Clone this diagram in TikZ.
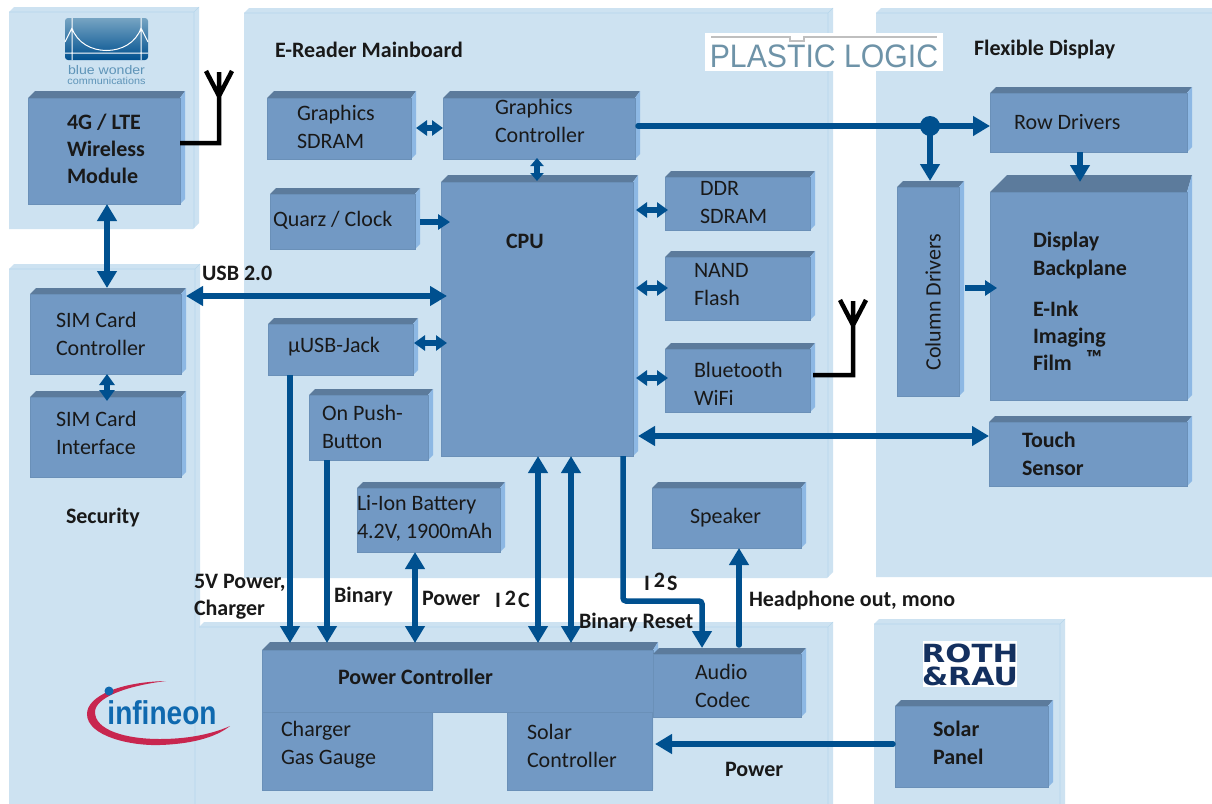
\documentclass[tikz,border=0pt]{standalone}
\usepackage{fontspec}
\setmainfont{Carlito}
\newfontfamily\logofont{Liberation Sans}
\newfontfamily\heavyfont{DejaVu Sans}
\usetikzlibrary{arrows.meta,calc}
\definecolor{regionc}{HTML}{CDE2F1}
\definecolor{regionl}{HTML}{B6D6EC}
\definecolor{frontc}{HTML}{7299C4}
\definecolor{topc}{HTML}{5C7B9C}
\definecolor{sidec}{HTML}{8DB8E4}
\definecolor{edgec}{HTML}{6A90B8}
\definecolor{linkc}{HTML}{00508F}
\definecolor{plc}{HTML}{6E93A8}
\definecolor{rrc}{HTML}{14305F}
\definecolor{ifb}{HTML}{0F69AF}
\definecolor{ifr}{HTML}{C8264F}
\definecolor{bwc}{HTML}{5E94B8}
\tikzset{
  x=1pt,y=-1pt,
  boxfront/.style={fill=frontc,draw=edgec,line width=.6pt},
  lab/.style={anchor=west,inner sep=0,outer sep=0,font=\fontsize{22}{28}\selectfont,align=left,text=black!90},
  blab/.style={lab,font=\fontsize{22}{27.5}\bfseries\selectfont},
  tlab/.style={lab,yshift=-1.5pt,font=\fontsize{22}{27}\bfseries\selectfont},
  conn/.style={line width=5.5pt,draw=linkc},
  to1/.style={conn,-{Triangle[width=19pt,length=17pt]}},
  both/.style={conn,{Triangle[width=19pt,length=17pt]}-{Triangle[width=19pt,length=17pt]}},
  sboth/.style={conn,{Triangle[width=15pt,length=11pt]}-{Triangle[width=15pt,length=11pt]}},
  tboth/.style={conn,{Triangle[width=13pt,length=8pt]}-{Triangle[width=13pt,length=8pt]}},
  to2/.style={conn,-{Triangle[width=15pt,length=12pt]}},
  ant/.style={line width=4.5pt,draw=black},
}
% name x0 y0 x1 y1 topdepth sidedepth
\newcommand{\blockbox}[7]{%
  \pgfmathsetmacro{\bw}{#4-#2}\pgfmathsetmacro{\bh}{#5-#3}%
  \pgfmathsetmacro{\bcx}{(#2+#4)/2}\pgfmathsetmacro{\bcy}{(#3+#5)/2}%
  \fill[topc] (#2,#3+#6) -- (#2+#6,#3) -- (#4,#3) -- (#4-#7,#3+#6) -- cycle;
  \fill[sidec] (#4-#7,#3+#6) -- (#4,#3) -- (#4,#5-#7) -- (#4-#7,#5) -- cycle;
  \fill[boxfront] (#2,#3+#6) rectangle (#4-#7,#5);
  \node[inner sep=0,outer sep=0,minimum width=\bw pt,minimum height=\bh pt] (#1) at (\bcx,\bcy) {};%
}
\newcommand{\regionbox}[4]{%
  \fill[regionc] (#1,#2+5) -- (#1+5,#2) -- (#3,#2) -- (#3,#4-6) -- (#3-6,#4) -- (#1,#4) -- cycle;
  \draw[regionl,line width=.6pt] (#1,#2+5) -- (#3-5,#2+5) -- (#3-5,#4-1) (#3-5,#2+5) -- (#3,#2);
}
\begin{document}
\begin{tikzpicture}
\useasboundingbox (0,0) rectangle (1212,803);
\fill[white] (0,0) rectangle (1212,803);
% regions
\regionbox{9}{264}{200}{812}
\regionbox{9}{7}{199}{229}
\regionbox{244}{8}{833}{578}
\regionbox{876}{8}{1230}{577}
\regionbox{199}{622}{833}{812}
\regionbox{874}{619}{1065}{812}
\fill[white] (1212,0) rectangle (1240,803);

% logos
\shade[top color=bwc!85,bottom color=linkc,rounded corners=3pt] (65,18) rectangle (148,60);
\draw[white,line width=1pt] (72,18) -- (72,60) (141,18) -- (141,60)
  (65,53) -- (148,53) (65,42) .. controls (68,36) .. (72,28)
  (148,42) .. controls (145,36) .. (141,28)
  (72,28) .. controls (82,58) and (131,58) .. (141,28);
\node[inner sep=0,xscale=1.13,font=\logofont\fontsize{12.5}{14}\selectfont,text=bwc] (bwa) at (106.5,70) {blue wonder};
\node[inner sep=0,xscale=1.08,font=\logofont\fontsize{10}{11}\selectfont,text=bwc] (bwb) at (106.5,81) {communications};

\fill[white] (705,33) rectangle (943,71);
\draw[black!25,line width=1.2pt] (711,37) -- (790,37) -- (790,41) -- (804,41) -- (804,37) -- (937,37);
\node[inner sep=0,xscale=.93,font=\logofont\fontsize{32.5}{36}\selectfont,text=plc] (pl) at (824,56) {PLASTIC LOGIC};

\fill[white] (923,641) rectangle (1017,687);
\node[inner sep=0,xscale=1.23,font=\heavyfont\fontsize{25}{25}\bfseries\selectfont,text=rrc] (rr) at (970,653) {ROTH};
\node[inner sep=0,xscale=1.2,font=\heavyfont\fontsize{25}{25}\bfseries\selectfont,text=rrc] (rs) at (970,676) {\&RAU};

\fill[ifr] (166,681) .. controls (120,682) and (87,696) .. (87,714)
  .. controls (87,736) and (130,746) .. (160,745)
  .. controls (190,744) and (215,738) .. (230,726)
  .. controls (210,735) and (185,739) .. (160,739)
  .. controls (125,739) and (95,730) .. (95,712)
  .. controls (95,698) and (125,686) .. (166,681) -- cycle;
\node[inner sep=0,font=\logofont\fontsize{33}{36}\bfseries\selectfont,text=ifb,xscale=.85] (ifx) at (162,713) {infineon};
\fill[ifb] (109,691) circle (4.5);

% blocks
\blockbox{lte}{28}{91}{185}{204}{7}{5}
\blockbox{gsdram}{267}{91}{416}{159}{7}{5}
\blockbox{gctrl}{443}{91}{640}{159}{7}{5}
\blockbox{quarz}{270}{188}{420}{249}{6}{5}
\blockbox{cpu}{441}{175}{638}{456}{7}{5}
\blockbox{ddr}{665}{171}{815}{230}{6}{5}
\blockbox{nand}{665}{251}{815}{320}{6}{5}
\blockbox{bt}{665}{343}{815}{412}{6}{5}
\blockbox{usbj}{268}{318}{418}{375}{6}{5}
\blockbox{push}{309}{389}{433}{460}{6}{5}
\blockbox{liion}{357}{482}{505}{552}{6}{5}
\blockbox{spk}{652}{482}{806}{548}{6}{5}
\blockbox{simc}{30}{288}{186}{374}{6}{5}
\blockbox{simi}{30}{391}{186}{477}{6}{5}
\blockbox{rowd}{990}{87}{1192}{152}{6}{5}
\blockbox{cold}{897}{181}{964}{396}{6}{5}
\blockbox{disp}{990}{175}{1192}{400}{17}{5}
\blockbox{touch}{989}{416}{1192}{486}{6}{5}
\blockbox{panel}{895}{700}{1053}{787}{6}{5}
\blockbox{charger}{262}{706}{433}{790}{1}{1}
\blockbox{solarc}{507}{706}{653}{790}{1}{1}
\blockbox{pctrl}{262}{642}{658}{712}{8}{5}
\blockbox{codec}{653}{648}{806}{717}{6}{5}
\draw[edgec,line width=.6pt] (262,712) -- (653,712);

% connectors
\draw[sboth] (gsdram.east |- 0,128) -- (gctrl.west |- 0,128);
\draw[tboth] (537,158) -- (537,181);
\draw[conn,line cap=round] (638,126) -- (930,126);
\draw[to1] (930,126) -- (rowd.west |- 0,126);
\fill[linkc] (930,126) circle (10);
\draw[to1] (930,126) -- (cold.north -| 930,0);
\draw[to1] (rowd.south -| 1080,0) -- (1080,182);
\draw[to2] (quarz.east |- 0,222) -- (450,222);
\draw[sboth] (636,210) -- (668,210);
\draw[sboth] (636,288) -- (668,288);
\draw[sboth] (636,378) -- (668,378);
\draw[sboth] (414,343) -- (447,343);
\draw[both] (simc.east |- 0,296) -- (447,296);
\draw[both] (cpu.east |- 0,436) -- (touch.west |- 0,436);
\draw[both] (107,204) -- (107,288);
\draw[sboth] (107,374) -- (107,401);
\draw[to2] (965,288) -- (997,288);
\draw[to1] (290,375) -- (290,643);
\draw[to1] (327,460) -- (327,643);
\draw[both] (415,552) -- (415,643);
\draw[both] (538,456) -- (538,643);
\draw[both] (571,456) -- (571,643);
\draw[to1,rounded corners=3pt] (623,456) -- (623,601) -- (702,601) -- (702,648);
\draw[conn,-{Triangle[width=19pt,length=17pt]},line cap=round] (739,645) -- (739,548);
\draw[to1,line cap=round] (893,744) -- (655,744);
% antennas
\draw[ant] (180,143) -- (219,143) -- (219,72) (206,71) -- (219,96) -- (232,71);
\draw[ant] (813,375) -- (853,375) -- (853,301) (840,300) -- (853,325) -- (866,300);

% texts
\node[blab,font=\fontsize{22}{27}\bfseries\selectfont] (t1) at (67,149) {4G / LTE\\Wireless\\Module};
\node[tlab] (t2) at (275,48) {E-Reader Mainboard};
\node[tlab] (t3) at (974,48) {Flexible Display};
\node[lab] (t4) at (297,127) {Graphics\\SDRAM};
\node[lab] (t5) at (495,121) {Graphics\\Controller};
\node[lab] (t6) at (273,220.5) {Quarz / Clock};
\node[tlab] (t7) at (506,240) {CPU};
\node[lab] (t8) at (700,203) {DDR\\SDRAM};
\node[lab] (t9) at (694,285) {NAND\\Flash};
\node[lab] (t10) at (694,384) {Bluetooth\\WiFi};
\node[lab] (t11) at (288,347) {µUSB-Jack};
\node[lab] (t12) at (322,427) {On Push-\\Button};
\node[lab] (t13) at (357,518) {Li-Ion Battery\\4.2V, 1900mAh};
\node[lab] (t14) at (690,517.5) {Speaker};
\node[lab] (t15) at (56,334) {SIM Card\\Controller};
\node[lab] (t16) at (56,433) {SIM Card\\Interface};
\node[tlab] (t17) at (66,516) {Security};
\node[lab] (t18) at (1014,122) {Row Drivers};
\node[lab,rotate=90,anchor=center] (t19) at (933,302) {Column Drivers};
\node[blab] (t20) at (1033,255.5) {Display\\Backplane};
\node[blab,font=\fontsize{22}{27}\bfseries\selectfont] (t21) at (1033,336) {E-Ink\\Imaging\\Film};
\node[blab] (t22) at (1086,358) {™};
\node[blab] (t23) at (1022,454) {Touch\\Sensor};
\node[tlab] (t24) at (202,272) {USB 2.0};
\node[tlab] (t25) at (194,595) {5V Power,\\Charger};
\node[tlab] (t26) at (334,595) {Binary};
\node[tlab] (t27) at (422,597) {Power};
\node[tlab] (t28) at (495,598) {I\hspace{4pt}\raisebox{2pt}{2}\hspace{2pt}C};
\node[tlab] (t29) at (644,580) {I\hspace{4pt}\raisebox{3pt}{2}\hspace{2pt}S};
\node[tlab] (t30) at (579,621) {Binary Reset};
\node[tlab] (t31) at (749,599) {Headphone out, mono};
\node[tlab] (t32) at (725,768) {Power};
\node[tlab] (t33) at (338,675) {Power Controller};
\node[lab] (t34) at (695,686) {Audio\\Codec};
\node[lab] (t35) at (281,744.5) {Charger\\Gas Gauge};
\node[lab] (t36) at (527,746) {Solar\\Controller};
\node[blab] (t37) at (933,743) {Solar\\Panel};
\end{tikzpicture}
\end{document}
